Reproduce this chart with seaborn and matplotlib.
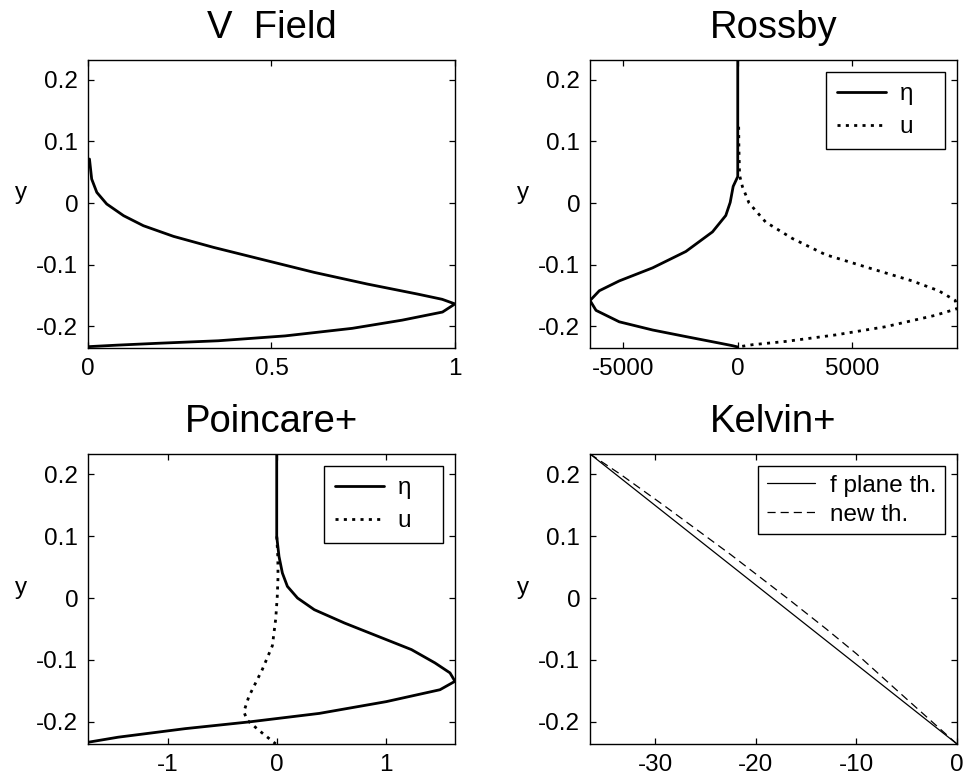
import matplotlib
matplotlib.use("Agg")
import matplotlib.pyplot as plt
from matplotlib.ticker import FormatStrFormatter
import seaborn as sns

# ---- V field profile ----
vfield_y = [0.0715, 0.039, 0.0173, -0.0016, -0.0206, -0.0369, -0.0542, -0.0721,
            -0.0911, -0.1127, -0.1317, -0.148, -0.1565, -0.1640, -0.1772, -0.1904,
            -0.2037, -0.2160, -0.2239, -0.2280, -0.2310, -0.2335]
vfield_v = [0.004, 0.010, 0.024, 0.051, 0.097, 0.151, 0.233, 0.342,
            0.470, 0.616, 0.761, 0.898, 0.965, 1.0, 0.966, 0.856,
            0.720, 0.537, 0.355, 0.190, 0.080, 0.0]

# ---- Rossby mode ----
ross_eta_y = [0.2325, 0.043, 0.027, 0.001, -0.0203, -0.0469, -0.0788, -0.1054, -0.1266,
              -0.1426, -0.1585, -0.1745, -0.1931, -0.2064, -0.2171, -0.2276, -0.2319, -0.2340]
ross_eta = [0, 0, -200, -330, -523, -1103, -2267, -3719, -5175,
            -6047, -6452, -6190, -5175, -3719, -2267, -815, -231, 0]
ross_u_y = [0.124, 0.09, 0.045, 0.0265, 0.0, -0.031, -0.0576, -0.084, -0.1054, -0.1266,
            -0.1426, -0.1585, -0.1718, -0.1825, -0.2011, -0.2144, -0.2250, -0.2303, -0.2340]
ross_u = [40, 50, 80, 205, 493, 1220, 2384, 3836, 5723, 7616,
          8777, 9503, 9577, 8632, 6452, 4272, 2092, 641, 0]

# ---- Poincare+ mode ----
poin_eta_y = [0.2325, 0.0994, 0.0671, 0.0403, 0.0188, 0.0, -0.0188, -0.0403, -0.0618,
              -0.0832, -0.1047, -0.1208, -0.1344, -0.148, -0.1672, -0.1862, -0.2000,
              -0.2108, -0.2246, -0.2328]
poin_eta = [0.0, 0.0, 0.021, 0.052, 0.098, 0.191, 0.345, 0.622, 0.93,
            1.237, 1.453, 1.591, 1.637, 1.499, 1.006, 0.391, -0.256,
            -0.840, -1.456, -1.733]
poin_u_y = [0.0994, 0.0671, 0.0349, 0.0027, -0.0333, -0.077, -0.1152, -0.159,
            -0.1836, -0.1972, -0.2136, -0.2354]
poin_u = [0.0, 0.01, 0.012, 0.005, -0.009, -0.04, -0.132, -0.256,
          -0.302, -0.27, -0.163, -0.009]

# ---- Kelvin+ mode ----
kel_f_y = [0.2325, -0.2356]
kel_f = [-36.5, 0.0]
kel_new_y = [0.2325, 0.2, 0.15, 0.07, 0.0, -0.05, -0.09, -0.1435, -0.198, -0.2356]
kel_new = [-36.5, -33.5, -29.2, -22.5, -16.9, -13.0, -10.0, -6.35, -2.6, 0.0]

titles = ["V  Field", "Rossby", "Poincare+", "Kelvin+"]
y_ticks = [-0.2, -0.1, 0.0, 0.1, 0.2]
x_ticks = [[0, 0.5, 1], [-5000, 0, 5000], [-1, 0, 1], [-30, -20, -10, 0]]
x_limits = [(0, 1), (-6452, 9577), (-1.733, 1.637), (-36.5, 0)]
y_limits = (-0.2356, 0.2325)

sns.set_theme(style="white", rc={
    "axes.edgecolor": "black",
    "axes.linewidth": 1.0,
    "axes.labelcolor": "black",
    "text.color": "black",
    "xtick.direction": "in",
    "ytick.direction": "in",
    "xtick.top": True,
    "ytick.right": True,
    "xtick.bottom": True,
    "ytick.left": True,
    "xtick.major.size": 4,
    "ytick.major.size": 4,
    "xtick.major.width": 0.9,
    "ytick.major.width": 0.9,
    "xtick.major.pad": 7,
    "ytick.major.pad": 7,
    "xtick.color": "black",
    "ytick.color": "black",
    "axes.unicode_minus": False,
})
plt.rcParams["font.family"] = ["Liberation Sans", "DejaVu Sans"]

fig = plt.figure(figsize=(9.66, 7.83), dpi=100)
rects = [
    [0.0911, 0.5556, 0.3799, 0.3678],
    [0.6108, 0.5556, 0.3799, 0.3678],
    [0.0911, 0.0498, 0.3799, 0.3704],
    [0.6108, 0.0498, 0.3799, 0.3704],
]
axes = [fig.add_axes(r) for r in rects]

thick = 2.0
dots = (0, (1.1, 1.9))
dashes = (0, (6.5, 4.0))

sns.lineplot(x=vfield_v, y=vfield_y, sort=False, estimator=None, color="black",
             linewidth=thick, ax=axes[0])

sns.lineplot(x=ross_eta, y=ross_eta_y, sort=False, estimator=None, color="black",
             linewidth=thick, ax=axes[1], label="η   ")
sns.lineplot(x=ross_u, y=ross_u_y, sort=False, estimator=None, color="black",
             linewidth=thick, linestyle=dots, ax=axes[1], label="u   ")

sns.lineplot(x=poin_eta, y=poin_eta_y, sort=False, estimator=None, color="black",
             linewidth=thick, ax=axes[2], label="η   ")
sns.lineplot(x=poin_u, y=poin_u_y, sort=False, estimator=None, color="black",
             linewidth=thick, linestyle=dots, ax=axes[2], label="u   ")

sns.lineplot(x=kel_f, y=kel_f_y, sort=False, estimator=None, color="black",
             linewidth=0.9, ax=axes[3], label="f plane th.")
sns.lineplot(x=kel_new, y=kel_new_y, sort=False, estimator=None, color="black",
             linewidth=0.9, linestyle=dashes, ax=axes[3], label="new th.")

for i, ax in enumerate(axes):
    ax.set_xlim(*x_limits[i])
    ax.set_ylim(*y_limits)
    ax.set_xticks(x_ticks[i])
    ax.set_yticks(y_ticks)
    ax.xaxis.set_major_formatter(FormatStrFormatter("%g"))
    ax.yaxis.set_major_formatter(FormatStrFormatter("%g"))
    ax.tick_params(labelsize=17.5, top=True, right=True, direction="in",
                   labelcolor="black")
    ax.set_xlabel("")
    ax.set_ylabel("y", rotation=0, fontsize=17.5, ha="center", va="baseline")
    ax.yaxis.set_label_coords(-0.182, 0.517)
    ax.set_title(titles[i], fontsize=27.5, pad=16, color="black")
    for sp in ax.spines.values():
        sp.set_visible(True)
        sp.set_color("black")
        sp.set_linewidth(1.0)

legend_style = [
    dict(borderpad=0.45, labelspacing=0.45),
    dict(borderpad=0.45, labelspacing=0.45),
    dict(borderpad=0.35, labelspacing=0.3),
]
for ax, style in zip(axes[1:], legend_style):
    leg = ax.legend(loc="upper right", fontsize=17.5, frameon=True, fancybox=False,
                    edgecolor="black", framealpha=1.0, handlelength=2.0,
                    handletextpad=0.6, borderaxespad=0.5, **style)
    leg.get_frame().set_linewidth(1.0)

fig.savefig("out.png", dpi=100, facecolor="white")
